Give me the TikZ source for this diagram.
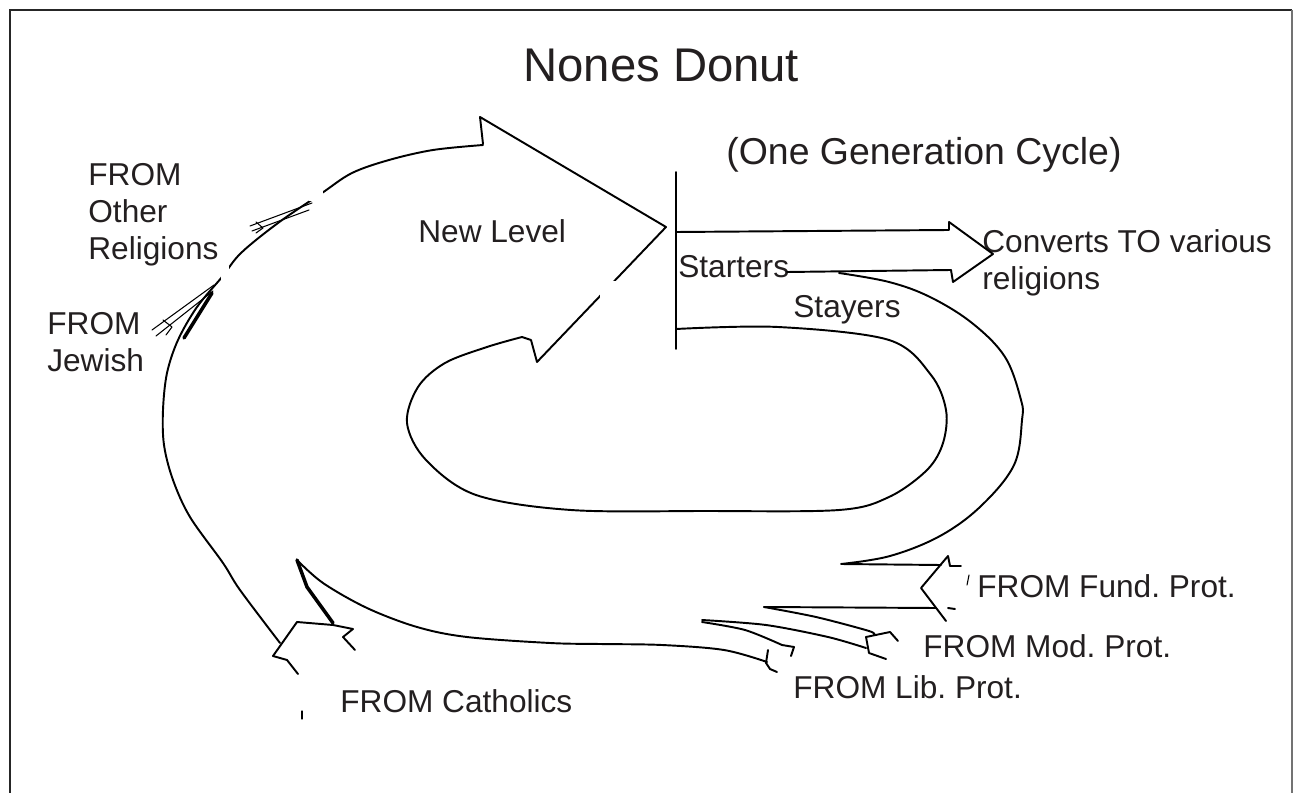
\documentclass[tikz,border=0pt]{standalone}
\usepackage{fontspec}
\setmainfont{Liberation Sans}
\definecolor{ink}{HTML}{231F20}

\begin{document}
\frenchspacing
\begin{tikzpicture}[
  x=0.02cm, y=-0.02cm,        % one unit = one pixel of the sketch, y runs down
  txt/.style={anchor=base west, inner sep=0pt, text=ink, align=left,
              font=\fontsize{18}{21.3}\selectfont},
  pen/.style={line width=1.1pt, line cap=round, line join=round},
  fine/.style={line width=0.6pt, line cap=round, line join=round},
  heavy/.style={line width=2pt, line cap=round}
]
  \useasboundingbox (0,0) rectangle (1293,793);
  % Frame
  \draw[line width=1.3pt, black!85] (10,800) -- (10,10) -- (1292,10);
  \draw[line width=0.6pt, black!55] (1292,10) -- (1292,800);

  % Titles
  \node[txt, font=\fontsize{26.9}{30}\selectfont] (title) at (523,82) {Nones Donut};
  \node[txt, font=\fontsize{21.3}{25}\selectfont] (cycle) at (726,165) {(One Generation Cycle)};

  % Labels (multi-line ones sit on the base of their last line)
  \node[txt] (other)    at (88,260)  {FROM\\Other\\Religions};
  \node[txt] (jewish)   at (47,372)  {FROM\\Jewish};
  \node[txt] (newlevel) at (418,243) {New Level};
  \node[txt] (starters) at (678,278) {Starters};
  \node[txt] (stayers)  at (793,318) {Stayers};
  \node[txt] (converts) at (982,290) {Converts TO various\\religions};
  \node[txt] (fund)     at (977,597) {FROM Fund. Prot.};
  \node[txt] (mod)      at (923,657) {FROM Mod. Prot.};
  \node[txt] (lib)      at (793,698) {FROM Lib. Prot.};
  \node[txt] (cath)     at (340,712) {FROM Catholics};

  % Inner loop (Stayers) running into the New Level arrow
  \draw[pen] plot[smooth, tension=0.55] coordinates {(676,329) (778,327) (889,340)
      (931,375) (946,410) (943,443) (927,470) (889,497) (839,510) (705,511) (571,510)
      (476,495) (426,460) (407,423) (418,387) (445,363) (487,347) (522,337)}
    -- (531,340) -- (537,362) -- (666,227) -- (480,117) -- (483,144);
  % Outer curve down the left side
  \draw[pen] plot[smooth, tension=0.55] coordinates {(483,145) (433,150) (389,160)
      (352,173) (322,193) (278,223) (241,253) (222,277) (197,307) (178,340) (167,373)
      (163,410) (164,445) (173,480) (190,517) (223,563) (240,590) (280,643)};
  % Bar between generations
  \draw[pen] (676,172) -- (676,349);

  % Converts TO various religions
  \draw[pen] (676,232) -- (949,230) -- (949,222) -- (993,254) -- (953,282) -- (951,270);
  \draw[pen] (787,272) -- (951,270);
  % Starters bend round the right side
  \draw[pen] plot[smooth, tension=0.6] coordinates {(839,273) (889,282) (930,297)
      (972,323) (1005,357) (1021,400) (1022,420) (1014,465) (981,506) (940,536)
      (890,556) (841,564)} -- (941,565);

  % FROM Catholics
  \draw[pen] (273,656) -- (297,622) -- (333,625) -- (353,629) -- (343,637) -- (355,650);
  \draw[pen] (273,656) -- (287,660) -- (298,674);
  \draw[heavy] (297,560) -- (307,587) -- (333,623);
  \draw[pen] plot[smooth, tension=0.55] coordinates {(297,560) (323,583) (367,608)
      (417,627) (467,637) (550,643) (600,644) (662,645) (724,650) (767,662)};

  % FROM Fund. Prot.
  \draw[pen] (961,566) -- (950,566) -- (948,556) -- (921,588) -- (946,621);
  \draw[pen] (948,608) -- (955,609);
  \draw[pen] (764,607) -- (936,608);
  % FROM Mod. Prot.
  \draw[pen] plot[smooth] coordinates {(764,607) (816,617) (869,631) (874,635)};
  \draw[pen] plot[smooth] coordinates {(702,620) (766,625) (828,637) (866,648)};
  \draw[pen] (866,637) -- (890,632) -- (898,641);
  \draw[pen] (866,637) -- (869,653) -- (886,659);
  % FROM Lib. Prot.
  \draw[pen] plot[smooth] coordinates {(702,622) (745,630) (782,645)};
  \draw[pen] (782,645) -- (794,647) -- (791,656);
  \draw[pen] (768,650) -- (766,663) -- (770,669) -- (777,672);

  % FROM Other Religions, FROM Jewish
  \draw[fine] (250,226) -- (312,203);
  \draw[fine] (252,231) -- (309,210);
  \draw[fine] (256,222) -- (263,228) -- (256,233);
  \draw[fine] (152,330) -- (214,285);
  \draw[fine] (156,336) -- (213,291);
  \draw[fine] (163,320) -- (172,327) -- (166,335);
  \draw[heavy] (184,338) -- (212,293);

  % Gaps left in the scan
  \fill[white] (600,281) rectangle (622,298);
  \fill[white] (309,190) rectangle (323,201);
  \fill[white] (221,266) rectangle (229,290);
  \draw[fine] (969,575) -- (967,585);
  \draw[fine] (302,711) -- (302,719);
\end{tikzpicture}
\end{document}
